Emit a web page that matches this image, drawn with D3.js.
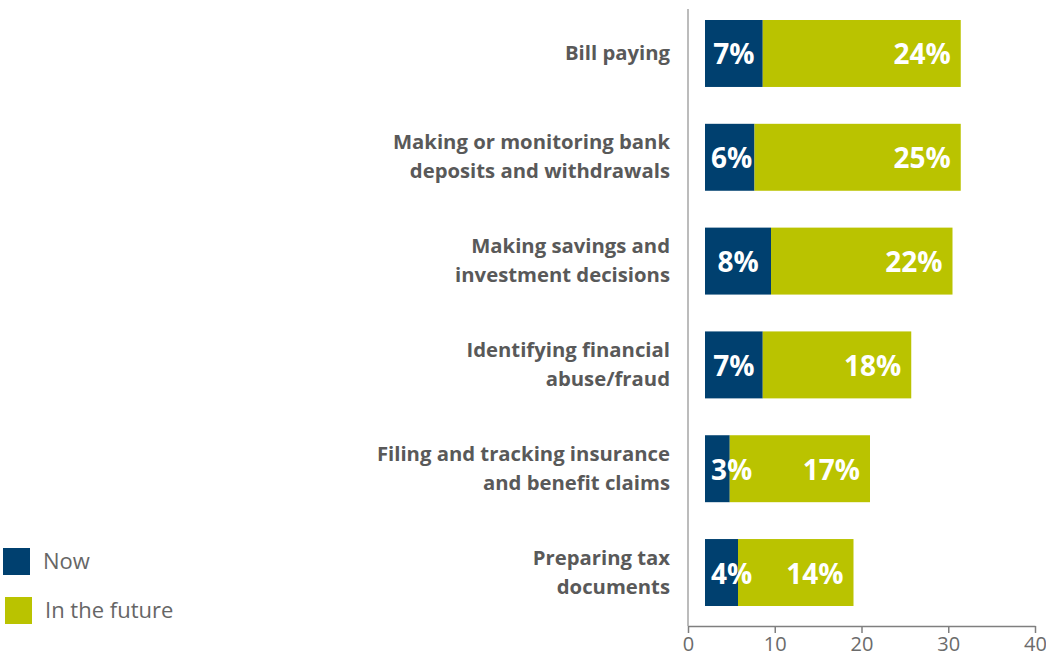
<!DOCTYPE html>
<html>
<head>
<meta charset="utf-8">
<script src="https://cdn.jsdelivr.net/npm/d3@7"></script>
<style>
  html, body { margin: 0; padding: 0; background: #fff; }
  svg { display: block; font-family: "Open Sans", "Noto Sans", sans-serif; }
</style>
</head>
<body>
<svg id="chart" width="1046" height="659"></svg>
<script>
// Financial tasks, share of respondents (%)
const categories = [
  ["Bill paying"],
  ["Making or monitoring bank", "deposits and withdrawals"],
  ["Making savings and", "investment decisions"],
  ["Identifying financial", "abuse/fraud"],
  ["Filing and tracking insurance", "and benefit claims"],
  ["Preparing tax", "documents"]
];
const nowValues    = [7, 6, 8, 7, 3, 4];
const futureValues = [24, 25, 22, 18, 17, 14];
const seriesNames  = ["Now", "In the future"];
const tickValues   = [0, 10, 20, 30, 40];

const colors = { now: "#00406f", future: "#bac300" };
const textGrey = "#595959";

const svg = d3.select("#chart");

const keys = categories.map(c => c.join(" "));
const rows = keys.map((k, i) => ({ key: k, lines: categories[i], now: nowValues[i], future: futureValues[i] }));

// bars sit slightly inset from the axis line; axis ticks use their own scale
const x = d3.scaleLinear().domain([0, 40]).range([705, 1035]);
const xAxisScale = d3.scaleLinear().domain([0, 40]).range([688, 1035]);
const y = d3.scaleBand().domain(keys).range([20, 606]).paddingInner(0.355).paddingOuter(0);

const axisY = 626;

// vertical baseline
svg.append("line")
  .attr("x1", 688).attr("x2", 688)
  .attr("y1", 9).attr("y2", axisY)
  .attr("stroke", "#a6a6a6").attr("stroke-width", 1.5);

// bottom axis
const axis = d3.axisBottom(xAxisScale).tickValues(tickValues).tickSize(7).tickSizeOuter(0).tickPadding(4);
const gAxis = svg.append("g").attr("transform", `translate(0,${axisY})`).call(axis);
gAxis.select(".domain").attr("stroke", "#7f7f7f").attr("stroke-width", 1.5);
gAxis.selectAll(".tick line").attr("stroke", "#7f7f7f").attr("stroke-width", 1.5);
gAxis.selectAll(".tick text")
  .attr("fill", "#6b6b6b")
  .style("font-family", "'Open Sans', sans-serif")
  .style("font-size", "20px");

// stacked bars
const g = svg.append("g");
const bar = g.selectAll(".row").data(rows).enter().append("g").attr("class", "row");

bar.append("rect")
  .attr("x", d => x(0))
  .attr("y", d => y(d.key))
  .attr("width", d => x(d.now) - x(0))
  .attr("height", y.bandwidth())
  .attr("fill", colors.now);

bar.append("rect")
  .attr("x", d => x(d.now))
  .attr("y", d => y(d.key))
  .attr("width", d => x(d.now + d.future) - x(d.now))
  .attr("height", y.bandwidth())
  .attr("fill", colors.future);

// value labels
const labelSize = 28;
bar.append("text")
  .attr("class", "now-label")
  .attr("y", d => y(d.key) + y.bandwidth() / 2 + 11)
  .attr("text-anchor", "middle")
  .attr("fill", "#fff")
  .style("font-weight", 700)
  .style("font-size", labelSize + "px")
  .text(d => d.now + "%")
  .each(function(d) {
    const w = this.getComputedTextLength();
    const cx = Math.max((x(0) + x(d.now)) / 2, x(0) + 6 + w / 2);
    d3.select(this).attr("x", cx);
  });

bar.append("text")
  .attr("x", d => x(d.now + d.future) - 10)
  .attr("y", d => y(d.key) + y.bandwidth() / 2 + 11)
  .attr("text-anchor", "end")
  .attr("fill", "#fff")
  .style("font-weight", 700)
  .style("font-size", labelSize + "px")
  .text(d => d.future + "%");

// category labels
const catSize = 20.3, lineGap = 29;
rows.forEach(d => {
  const cy = y(d.key) + y.bandwidth() / 2;
  const n = d.lines.length;
  const t = svg.append("text")
    .attr("text-anchor", "end")
    .attr("fill", textGrey)
    .style("font-weight", 700)
    .style("font-size", catSize + "px");
  d.lines.forEach((line, i) => {
    t.append("tspan")
      .attr("x", 670)
      .attr("y", cy + (i - (n - 1) / 2) * lineGap + catSize * 0.33)
      .text(line);
  });
});

// legend
const legend = svg.append("g");
const legendItems = [
  { name: seriesNames[0], color: colors.now, x: 3, y: 548 },
  { name: seriesNames[1], color: colors.future, x: 5, y: 597 }
];
legendItems.forEach(it => {
  legend.append("rect")
    .attr("x", it.x).attr("y", it.y)
    .attr("width", 27).attr("height", 27)
    .attr("fill", it.color);
  legend.append("text")
    .attr("x", it.x + 40).attr("y", it.y + 21)
    .attr("fill", "#666")
    .style("font-size", "22px")
    .text(it.name);
});
</script>
</body>
</html>
